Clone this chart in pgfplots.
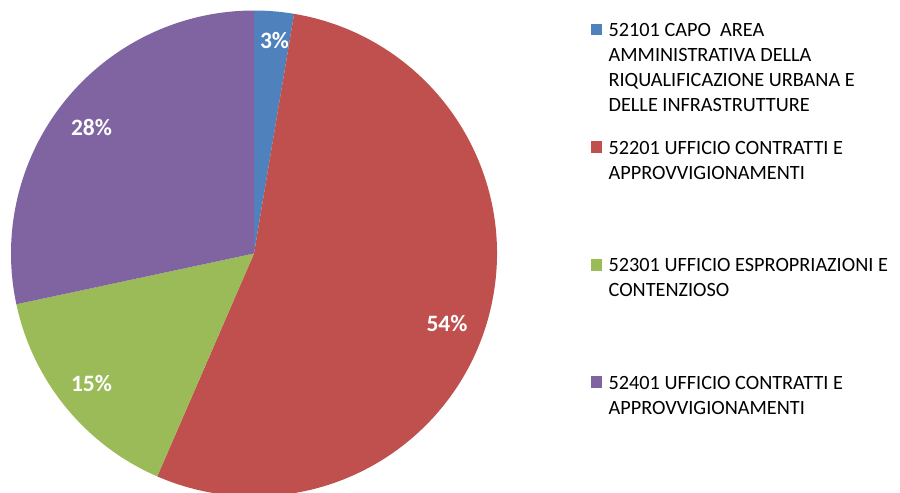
\documentclass[border=0pt]{standalone}
\usepackage{fontspec}
\setmainfont{Carlito}
\usepackage{pgfplots}
\usepackage{pgfplotstable}
\pgfplotsset{compat=1.18}
\definecolor{pieBlue}{HTML}{4F81BD}
\definecolor{pieRed}{HTML}{C0504D}
\definecolor{pieGreen}{HTML}{9BBB59}
\definecolor{piePurple}{HTML}{8064A2}

% share (%)  colour
\pgfplotstableread{
val   col
2.64  pieBlue
53.88 pieRed
15.13 pieGreen
28.35 piePurple
}\piedata

\newcommand{\entry}[1]{\parbox[t][88pt][t]{230pt}{#1}}

\begin{document}
\begin{tikzpicture}
\begin{axis}[
  scale only axis,
  width=675pt, height=369pt,
  xmin=0, xmax=900, ymin=0, ymax=492,
  hide axis,
  every axis legend/.style={
    at={(0.6567,0.9533)}, anchor=north west,
    cells={anchor=north west},
    inner sep=0pt, column sep=0pt, row sep=0pt,
    nodes={inner sep=0pt, text depth=},
    draw=none, fill=none,
    font=\fontsize{15.2}{18.75}\selectfont,
  },
  legend image code/.code={%
    \path[draw=none, fill=#1] (0pt,-0.3pt) rectangle (8.1pt,-9.1pt);
    \path[draw=none, fill=none] (0pt,0pt) -- (13pt,0pt);
  },
]
\pgfplotstablegetrowsof{\piedata}
\pgfmathtruncatemacro\nrows{\pgfplotsretval-1}
\def\cum{0}
\pgfplotsforeachungrouped \i in {0,...,\nrows}{%
  \pgfplotstablegetelem{\i}{val}\of\piedata \let\v\pgfplotsretval
  \pgfplotstablegetelem{\i}{col}\of\piedata \let\c\pgfplotsretval
  \pgfmathsetmacro\a{90-3.6*\cum}%
  \pgfmathsetmacro\b{90-3.6*(\cum+\v)}%
  \edef\temp{\noexpand\fill[\c] (axis cs:254,238.5) -- ++(\a:182.25pt) arc[start angle=\a, end angle=\b, radius=182.25pt] -- cycle;}%
  \temp
  \pgfmathsetmacro\cum{\cum+\v}%
}

\addlegendimage{pieBlue}
\addlegendentry{\entry{52101 CAPO\ \ AREA\\AMMINISTRATIVA DELLA\\RIQUALIFICAZIONE URBANA E\\DELLE INFRASTRUTTURE}}
\addlegendimage{pieRed}
\addlegendentry{\entry{52201 UFFICIO CONTRATTI E\\APPROVVIGIONAMENTI}}
\addlegendimage{pieGreen}
\addlegendentry{\entry{52301 UFFICIO ESPROPRIAZIONI E\\CONTENZIOSO}}
\addlegendimage{piePurple}
\addlegendentry{\entry{52401 UFFICIO CONTRATTI E\\APPROVVIGIONAMENTI}}

\begin{scope}[every node/.style={text=white, inner sep=0pt, font=\fontsize{17.6}{20}\selectfont\bfseries}]
\node at (axis cs:274.5,451.5) {3\%};
\node at (axis cs:447,168.5) {54\%};
\node at (axis cs:91.5,108) {15\%};
\node at (axis cs:91.5,365) {28\%};
\end{scope}
\end{axis}
\pgfresetboundingbox
\path (current axis.south west) rectangle (current axis.north east);
\end{tikzpicture}
\end{document}
